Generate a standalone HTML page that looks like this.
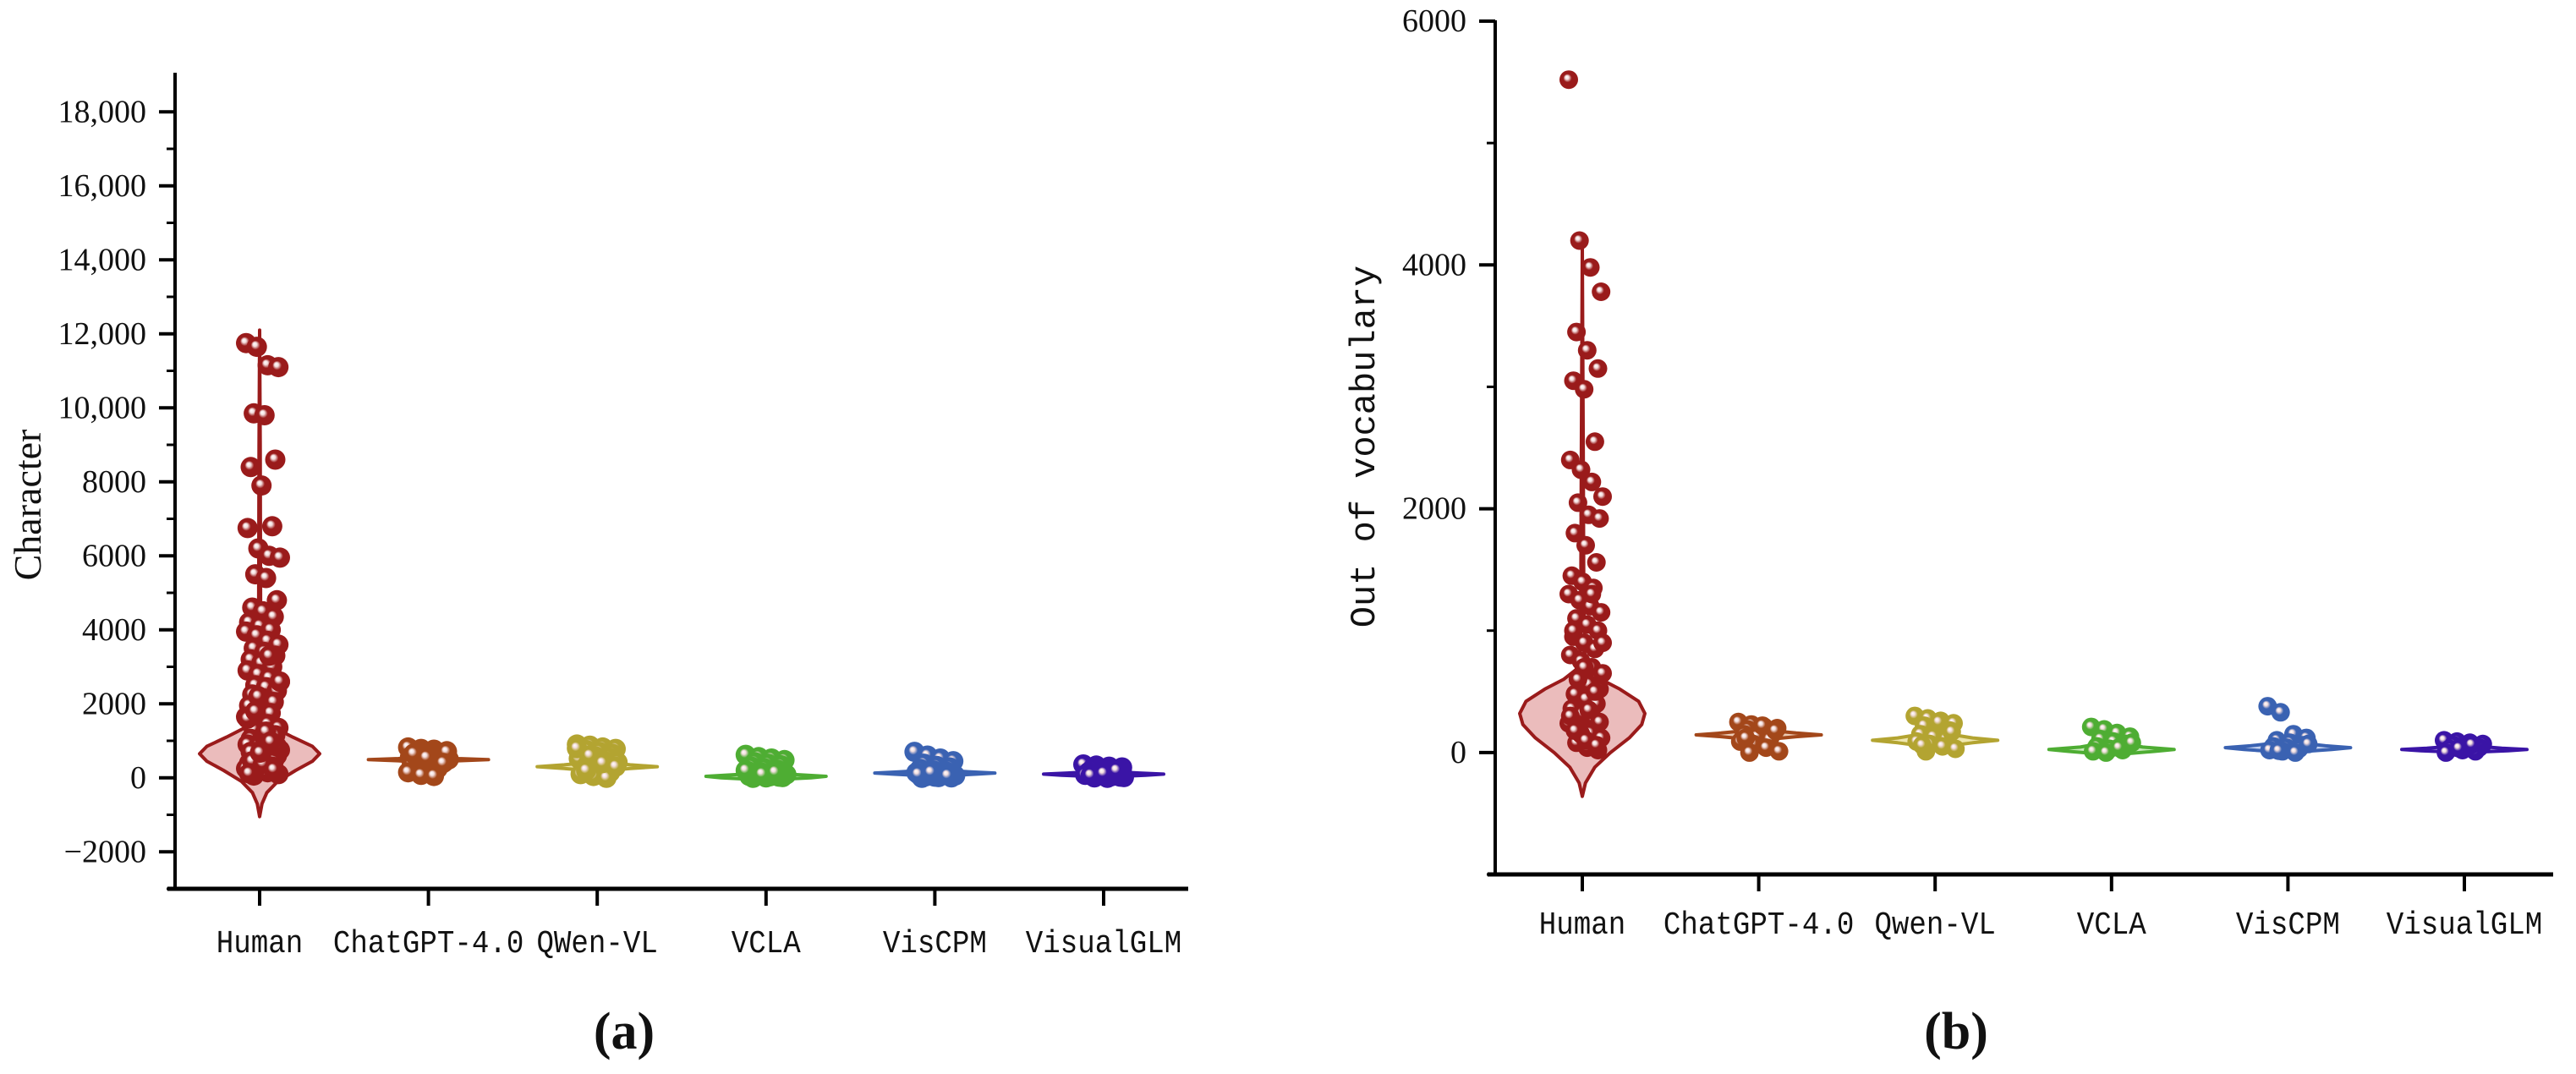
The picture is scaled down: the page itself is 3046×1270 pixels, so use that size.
<!DOCTYPE html>
<html><head><meta charset="utf-8">
<style>
html,body{margin:0;padding:0;background:#fff;}
svg{display:block;}
text{font-family:"Liberation Serif",serif;fill:#111;}
.mono{font-family:"Liberation Mono",monospace;}
</style></head>
<body>
<svg id="fig" width="3046" height="1270" viewBox="0 0 3046 1270" xmlns="http://www.w3.org/2000/svg">
<defs id="defs"></defs>
<g id="panelA"></g>
<g id="panelB"></g>
<text x="738" y="1240" text-anchor="middle" font-size="62" font-weight="bold">(a)</text>
<text x="2313" y="1240" text-anchor="middle" font-size="62" font-weight="bold">(b)</text>
</svg>
<script>
const categories = ["Human","ChatGPT-4.0","QWen-VL","VCLA","VisCPM","VisualGLM"];
const categoriesB = ["Human","ChatGPT-4.0","Qwen-VL","VCLA","VisCPM","VisualGLM"];
const colors = ["#9a1b1b","#a3471a","#b3a431","#4ead33","#3a62b2","#3a14a6"];
const fills = ["#e8b0b0","#e9c2a8","#ece3a0","#bfe6b0","#b9c9ec","#c2b4ea"];

const ticksA = [-2000,0,2000,4000,6000,8000,10000,12000,14000,16000,18000];
const tickLabelsA = ["\u22122000","0","2000","4000","6000","8000","10,000","12,000","14,000","16,000","18,000"];
const minorA = [-3000,-1000,1000,3000,5000,7000,9000,11000,13000,15000,17000];
const ticksB = [0,2000,4000,6000];
const tickLabelsB = ["0","2000","4000","6000"];
const minorB = [-1000,1000,3000,5000];

// Character (panel a) points
const ptsA_Human = [11750,11650,11150,11100,9850,9800,8600,8400,7900,6800,6750,6200,6000,5950,5500,5400,4800,4600,4500,4350,4200,4100,4000,3950,3850,3700,3600,3500,3400,3300,3200,3100,3000,2900,2800,2700,2600,2500,2450,2350,2250,2150,2050,1950,1850,1750,1650,1550,1450,1350,1300,1200,1150,1050,1000,950,900,850,800,750,700,650,600,550,500,450,400,350,300,250,200,150,100,60,1100,900,700,500,300,1600,2200,3300,2600,1800,1250,850,450,380,220,120,680,980];
const ptsA_ChatGPT = [820,780,760,720,700,680,650,620,600,580,560,540,520,500,480,460,440,420,400,380,350,300,250,150,80,50,700,600,500,400,650,550];
const ptsA_Qwen = [900,870,820,780,750,700,650,620,580,550,520,480,450,420,380,350,300,250,200,150,100,50,0,800,600,400,300,200];
const ptsA_VCLA = [620,560,520,480,420,380,340,300,260,220,180,150,120,90,60,40,20,0,10,30,50,100,150,200];
const ptsA_VisCPM = [700,600,520,450,380,320,280,240,200,170,140,110,80,60,40,20,10,0,30,60,100,150];
const ptsA_VisualGLM = [360,330,300,280,250,220,190,160,130,100,80,60,40,20,10,0,30,70,120,200];
const pointsA = [ptsA_Human,ptsA_ChatGPT,ptsA_Qwen,ptsA_VCLA,ptsA_VisCPM,ptsA_VisualGLM];

const vValsA_Human = [-1050,-700,-400,-100,200,450,650,850,1100,1350,1550,1750,2500,5000,9000,12100];
const vDensA_Human = [0,0.04,0.12,0.3,0.6,0.88,1.0,0.88,0.55,0.25,0.08,0.03,0.02,0.015,0.01,0];
const vValsA_ChatGPT = [400,460,490,520,580];
const vDensA_ChatGPT = [0,0.5,1,0.5,0];
const vValsA_Qwen = [170,250,300,350,440];
const vDensA_Qwen = [0,0.55,1,0.55,0];
const vValsA_VCLA = [-60,0,40,90,220];
const vDensA_VCLA = [0,0.75,1,0.45,0];
const vValsA_VisCPM = [40,100,130,160,220];
const vDensA_VisCPM = [0,0.7,1,0.6,0];
const vValsA_VisualGLM = [20,70,100,130,180];
const vDensA_VisualGLM = [0,0.7,1,0.6,0];
const violinValsA = [vValsA_Human,vValsA_ChatGPT,vValsA_Qwen,vValsA_VCLA,vValsA_VisCPM,vValsA_VisualGLM];
const violinDensA = [vDensA_Human,vDensA_ChatGPT,vDensA_Qwen,vDensA_VCLA,vDensA_VisCPM,vDensA_VisualGLM];

// Out of vocabulary (panel b) points
const ptsB_Human = [5520,4200,3980,3780,3450,3300,3150,3050,2980,2550,2400,2320,2220,2100,2050,1950,1920,1800,1700,1560,1450,1400,1350,1300,1250,1200,1150,1100,1050,1000,950,900,850,800,750,700,650,600,560,520,480,440,400,360,320,280,240,200,160,120,80,40,20,1000,700,500,300,150,1300,900,600,350,250,180,100,60];
const ptsB_ChatGPT = [250,230,210,200,190,170,160,150,130,110,90,70,40,10,0,220,180,120];
const ptsB_Qwen = [300,280,260,240,220,200,180,150,130,110,90,70,50,30,10,250,170,60];
const ptsB_VCLA = [210,190,160,130,110,90,70,50,30,20,10,0,40,80];
const ptsB_VisCPM = [380,330,150,120,100,80,60,50,40,30,20,10,0,70,15];
const ptsB_VisualGLM = [100,90,80,70,60,50,40,30,20,10,0,35,65];
const pointsB = [ptsB_Human,ptsB_ChatGPT,ptsB_Qwen,ptsB_VCLA,ptsB_VisCPM,ptsB_VisualGLM];

const vValsB_Human = [-360,-250,-120,0,120,230,320,420,520,600,680,800,1200,2500,4150];
const vDensB_Human = [0,0.05,0.2,0.45,0.75,0.95,1.0,0.9,0.6,0.3,0.1,0.04,0.025,0.015,0];
const vValsB_ChatGPT = [100,130,145,160,190];
const vDensB_ChatGPT = [0,0.6,1,0.6,0];
const vValsB_Qwen = [40,80,100,120,170];
const vDensB_Qwen = [0,0.6,1,0.6,0];
const vValsB_VCLA = [-20,10,25,45,90];
const vDensB_VCLA = [0,0.7,1,0.5,0];
const vValsB_VisCPM = [0,25,40,55,90];
const vDensB_VisCPM = [0,0.7,1,0.6,0];
const vValsB_VisualGLM = [0,15,25,35,60];
const vDensB_VisualGLM = [0,0.7,1,0.6,0];
const violinValsB = [vValsB_Human,vValsB_ChatGPT,vValsB_Qwen,vValsB_VCLA,vValsB_VisCPM,vValsB_VisualGLM];
const violinDensB = [vDensB_Human,vDensB_ChatGPT,vDensB_Qwen,vDensB_VCLA,vDensB_VisCPM,vDensB_VisualGLM];

const NS = "http://www.w3.org/2000/svg";
function mk(tag, attrs, parent){ const e=document.createElementNS(NS,tag); for(const k in attrs) e.setAttribute(k,attrs[k]); parent.appendChild(e); return e; }

const defs = document.getElementById('defs');
colors.forEach((c,i)=>{
  const g = mk('radialGradient',{id:'ball'+i,cx:'0.5',cy:'0.5',r:'0.5',fx:'0.38',fy:'0.35'},defs);
  mk('stop',{offset:'0','stop-color':'#ffffff'},g);
  mk('stop',{offset:'0.2','stop-color':'#f3dede'},g);
  mk('stop',{offset:'0.45','stop-color':c},g);
  mk('stop',{offset:'1','stop-color':c},g);
});

function drawPanel(root, cfg){
  const y = v => cfg.y0 - (v - cfg.vmin) * cfg.ppu;
  const x = i => cfg.cx0 + i * cfg.dx;
  let e = mk('line',{x1:cfg.axX,y1:cfg.axTop,x2:cfg.axX,y2:y(cfg.vmin)+2,stroke:'#000','stroke-width':4},root);
  
  
  e = mk('line',{x1:cfg.axX-9,y1:y(cfg.vmin),x2:cfg.axEnd,y2:y(cfg.vmin),stroke:'#000','stroke-width':5},root);
  
  
  cfg.ticks.forEach((t,k)=>{
    const tl = mk('line',{x1:cfg.axX-19,y1:y(t),x2:cfg.axX,y2:y(t),stroke:'#000','stroke-width':4},root);
    
    
    const tx = mk('text',{x:cfg.axX-34,y:y(t)+12,'text-anchor':'end','font-size':cfg.tickFont},root);
    tx.textContent = cfg.tickLabels[k];
    
    
  });
  cfg.minor.forEach(t=>{
    const tl = mk('line',{x1:cfg.axX-10,y1:y(t),x2:cfg.axX,y2:y(t),stroke:'#000','stroke-width':3},root);
    
    
  });
  const yl = mk('text',{x:cfg.ylabX,y:cfg.ylabY,'text-anchor':'middle','font-size':cfg.ylabFont,transform:`rotate(-90 ${cfg.ylabX} ${cfg.ylabY})`,class:cfg.ylabClass},root);
  yl.textContent = cfg.ylabel;
  
  

  cfg.cats.forEach((c,i)=>{
    const tk = mk('line',{x1:x(i),y1:y(cfg.vmin),x2:x(i),y2:y(cfg.vmin)+20,stroke:'#000','stroke-width':4},root);
    
    
    const lb = mk('text',{x:x(i),y:cfg.catY,'text-anchor':'middle','font-size':38,class:'mono',textLength:c.length*20.5,lengthAdjust:'spacingAndGlyphs'},root);
    lb.textContent = c;
    
    

    const vals = cfg.vVals[i], dens = cfg.vDens[i];
    let right = vals.map((v,k)=>[x(i)+dens[k]*cfg.halfW, y(v)]);
    let left = vals.map((v,k)=>[x(i)-dens[k]*cfg.halfW, y(v)]).reverse();
    const pts = right.concat(left);
    let d = 'M'+pts.map(p=>p[0].toFixed(1)+','+p[1].toFixed(1)).join(' L')+' Z';
    const vg = mk('g',{},root);
    
    
    mk('path',{d:d,fill:fills[i],'fill-opacity':0.85,stroke:colors[i],'stroke-width':4,'stroke-linejoin':'round'},vg);
    const arr = cfg.points[i];
    const spread = i===0 ? cfg.humanSpread : 24;
    arr.forEach((v,k)=>{
      const j = (((k*7919)%23)-11)/11;
      const cx = x(i) + (i===0 ? 4 : 0) + j*spread;
      const cc = mk('circle',{cx:cx.toFixed(1),cy:y(v).toFixed(1),r:cfg.r,fill:`url(#ball${i})`},vg);
      
      
    });
  });
}

drawPanel(document.getElementById('panelA'),{
  vmin:-3000, y0:1051, ppu:87.5/2000, axX:207, axTop:86, axEnd:1405,
  cx0:307, dx:199.6, catY:1126, ticks:ticksA, tickLabels:tickLabelsA, minor:minorA,
  tickFont:38, ylabel:'Character', ylabX:48, ylabY:597, ylabFont:46, ylabClass:'',
  cats:categories, vVals:violinValsA, vDens:violinDensA, points:pointsA, halfW:71, r:12, humanSpread:20
});
drawPanel(document.getElementById('panelB'),{
  vmin:-1000, y0:1034, ppu:1009/7000, axX:1768, axTop:24, axEnd:3019,
  cx0:1871, dx:208.6, catY:1104, ticks:ticksB, tickLabels:tickLabelsB, minor:minorB,
  tickFont:38, ylabel:'Out of vocabulary', ylabX:1625, ylabY:528, ylabFont:42, ylabClass:'mono',
  cats:categoriesB, vVals:violinValsB, vDens:violinDensB, points:pointsB, halfW:74, r:11, humanSpread:20
});
</script>
</body></html>
